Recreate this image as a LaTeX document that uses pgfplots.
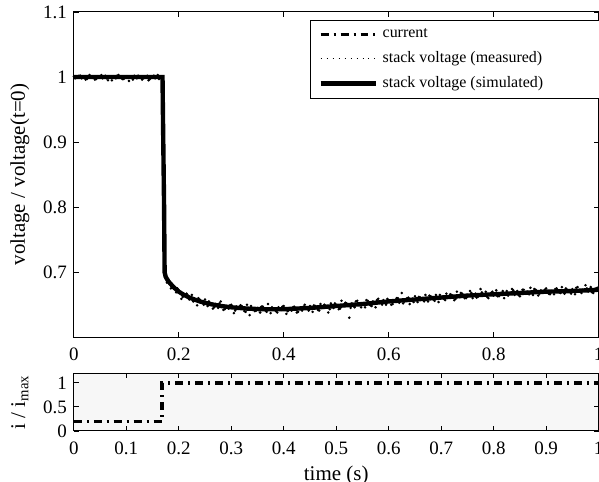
\documentclass[border=0pt]{standalone}
\usepackage{fontspec}
\setmainfont{Liberation Serif}
\usepackage{pgfplots}
\pgfplotsset{compat=1.18}
\begin{document}
\begin{tikzpicture}
\pgfplotsset{
 every axis/.append style={
  scale only axis, width=263pt, xmin=0, xmax=1,
  /pgf/number format/assume math mode=true,
  tick label style={font=\fontsize{9.5}{11}\selectfont},
  xticklabel style={yshift=-2pt},
  label style={font=\fontsize{10.5}{12}\selectfont},
  major tick length=2.5pt,
  tick style={black, line width=0.4pt},
  axis line style={line width=0.5pt},
  ylabel style={at={(axis description cs:0,0.5)}, anchor=center, yshift=27pt},
 }
}
\begin{axis}[name=top, at={(0,0)}, anchor=south west, height=163pt,
  ymin=0.6, ymax=1.1, ytick={0.7,0.8,0.9,1,1.1}, yticklabels={0.7,0.8,0.9,1,1.1},
  xtick={0,0.2,0.4,0.6,0.8,1}, xticklabels={0,0.2,0.4,0.6,0.8,1},
  ylabel={voltage / voltage(t=0)},
  legend image code/.code={\draw[#1] (0pt,0pt) -- (28pt,0pt);},
  legend cell align=left,
  legend style={at={(0.983,0.975)}, anchor=north east, xshift=15.5pt,
    draw=black, line width=0.5pt, fill=white, font=\fontsize{8}{9}\selectfont,
    row sep=1.5pt, inner xsep=4pt},
]
\addlegendimage{black, line width=1.8pt, dash pattern=on 4pt off 2.5pt on 1pt off 2.5pt}
\addlegendentry{current}
\addlegendimage{black, line width=0.5pt, dash pattern=on 0.5pt off 2.5pt}
\addlegendentry{stack voltage (measured)}
\addlegendimage{black, line width=2.2pt}
\addlegendentry{\makebox[113pt][l]{stack voltage (simulated)}}

% measured (noisy samples)
\addplot[forget plot, only marks, mark=*, mark size=0.42pt, black] coordinates {
(0.000,1.001)(0.005,0.999)(0.010,1.002)(0.015,0.998)(0.020,1.000)(0.025,0.997)(0.030,1.003)
(0.035,0.999)(0.040,0.996)(0.045,1.001)(0.050,1.000)(0.055,0.998)(0.060,1.002)(0.065,0.995)
(0.070,1.000)(0.075,1.001)(0.080,0.998)(0.085,1.003)(0.090,0.999)(0.095,0.997)(0.100,1.001)
(0.105,0.994)(0.110,1.000)(0.115,1.002)(0.120,0.998)(0.125,1.001)(0.130,0.996)(0.135,0.999)
(0.140,1.002)(0.145,0.997)(0.150,1.000)(0.155,0.998)(0.160,1.003)(0.165,0.999)
(0.0025,0.998)(0.0125,1.002)(0.0225,0.996)(0.0325,1.001)(0.0425,0.997)(0.0525,1.003)
(0.0625,0.998)(0.0725,0.995)(0.0825,1.002)(0.0925,0.997)(0.1025,1.001)(0.1125,0.996)
(0.1225,1.002)(0.1325,0.998)(0.1425,0.995)(0.1525,1.002)(0.1625,0.997)
(0.175,0.691)(0.180,0.689)(0.185,0.675)(0.190,0.678)(0.195,0.669)(0.200,0.672)(0.205,0.659)
(0.210,0.665)(0.215,0.667)(0.220,0.658)(0.225,0.665)(0.230,0.656)(0.235,0.649)(0.240,0.658)
(0.245,0.653)(0.250,0.658)(0.255,0.648)(0.260,0.652)(0.265,0.644)(0.270,0.651)(0.275,0.645)
(0.280,0.655)(0.285,0.642)(0.290,0.648)(0.295,0.644)(0.300,0.650)(0.305,0.637)(0.310,0.647)
(0.315,0.644)(0.320,0.648)(0.325,0.640)(0.330,0.650)(0.335,0.634)(0.340,0.645)(0.345,0.640)
(0.350,0.645)(0.355,0.638)(0.360,0.647)(0.365,0.641)(0.370,0.651)(0.375,0.637)(0.380,0.644)
(0.385,0.640)(0.390,0.646)(0.395,0.642)(0.400,0.648)(0.405,0.636)(0.410,0.645)(0.415,0.641)
(0.420,0.647)(0.425,0.638)(0.430,0.645)(0.435,0.641)(0.440,0.650)(0.445,0.644)(0.450,0.648)
(0.455,0.639)(0.460,0.648)(0.465,0.642)(0.470,0.651)(0.475,0.645)(0.480,0.648)(0.485,0.638)
(0.490,0.652)(0.495,0.645)(0.500,0.650)(0.505,0.643)(0.510,0.656)(0.515,0.648)(0.520,0.652)
(0.525,0.630)(0.530,0.652)(0.535,0.646)(0.540,0.656)(0.545,0.649)(0.550,0.652)(0.555,0.646)
(0.560,0.656)(0.565,0.649)(0.570,0.655)(0.575,0.646)(0.580,0.659)(0.585,0.653)(0.590,0.657)
(0.595,0.650)(0.600,0.657)(0.605,0.650)(0.610,0.656)(0.615,0.660)(0.620,0.653)(0.625,0.668)
(0.630,0.655)(0.635,0.660)(0.640,0.651)(0.645,0.659)(0.650,0.663)(0.655,0.654)(0.660,0.661)
(0.665,0.658)(0.670,0.665)(0.675,0.655)(0.680,0.663)(0.685,0.658)(0.690,0.665)(0.695,0.654)
(0.700,0.662)(0.705,0.659)(0.710,0.667)(0.715,0.661)(0.720,0.665)(0.725,0.657)(0.730,0.670)
(0.735,0.662)(0.740,0.667)(0.745,0.660)(0.750,0.665)(0.755,0.671)(0.760,0.660)(0.765,0.667)
(0.770,0.662)(0.775,0.674)(0.780,0.665)(0.785,0.670)(0.790,0.660)(0.795,0.668)(0.800,0.664)
(0.805,0.672)(0.810,0.663)(0.815,0.668)(0.820,0.660)(0.825,0.671)(0.830,0.667)(0.835,0.674)
(0.840,0.665)(0.845,0.671)(0.850,0.663)(0.855,0.673)(0.860,0.667)(0.865,0.670)(0.870,0.676)
(0.875,0.665)(0.880,0.673)(0.885,0.664)(0.890,0.672)(0.895,0.669)(0.900,0.675)(0.905,0.667)
(0.910,0.671)(0.915,0.666)(0.920,0.675)(0.925,0.669)(0.930,0.677)(0.935,0.667)(0.940,0.673)
(0.945,0.670)(0.950,0.674)(0.955,0.666)(0.960,0.677)(0.965,0.670)(0.970,0.673)(0.975,0.680)
(0.980,0.670)(0.985,0.677)(0.990,0.668)(0.995,0.675)(1.000,0.672)
(0.1775,0.684)(0.1875,0.676)(0.1975,0.675)(0.2075,0.662)(0.2175,0.664)(0.2275,0.655)
(0.2375,0.660)(0.2475,0.650)(0.2575,0.655)(0.2675,0.646)(0.2775,0.652)(0.2875,0.643)
(0.2975,0.649)(0.3075,0.641)(0.3175,0.649)(0.3275,0.639)(0.3375,0.648)(0.3475,0.641)
(0.3575,0.647)(0.3675,0.639)(0.3775,0.646)(0.3875,0.638)(0.3975,0.647)(0.4075,0.640)
(0.4175,0.646)(0.4275,0.639)(0.4375,0.647)(0.4475,0.641)(0.4575,0.649)(0.4675,0.641)
(0.4775,0.650)(0.4875,0.643)(0.4975,0.652)(0.5075,0.644)(0.5175,0.653)(0.5275,0.645)
(0.5375,0.655)(0.5475,0.646)(0.5575,0.657)(0.5675,0.648)(0.5775,0.657)(0.5875,0.650)
(0.5975,0.659)(0.6075,0.651)(0.6175,0.660)(0.6275,0.652)(0.6375,0.661)(0.6475,0.654)
(0.6575,0.662)(0.6675,0.655)(0.6775,0.664)(0.6875,0.656)(0.6975,0.665)(0.7075,0.657)
(0.7175,0.666)(0.7275,0.659)(0.7375,0.668)(0.7475,0.660)(0.7575,0.668)(0.7675,0.661)
(0.7775,0.669)(0.7875,0.662)(0.7975,0.670)(0.8075,0.663)(0.8175,0.671)(0.8275,0.664)
(0.8375,0.672)(0.8475,0.665)(0.8575,0.673)(0.8675,0.666)(0.8775,0.674)(0.8875,0.667)
(0.8975,0.673)(0.9075,0.666)(0.9175,0.674)(0.9275,0.668)(0.9375,0.675)(0.9475,0.667)
(0.9575,0.676)(0.9675,0.668)(0.9775,0.675)(0.9875,0.669)(0.9975,0.676)
};
% simulated
\addplot[forget plot, black, line width=2.2pt] coordinates {
(0,1)(0.169,1)(0.170,0.93)(0.172,0.80)(0.173,0.70)(0.175,0.693)(0.18,0.686)(0.19,0.677)
(0.2,0.670)(0.21,0.665)(0.22,0.661)(0.24,0.655)(0.26,0.651)(0.28,0.648)(0.30,0.646)
(0.33,0.644)(0.36,0.643)(0.40,0.643)(0.45,0.645)(0.5,0.648)(0.55,0.651)(0.6,0.655)
(0.65,0.658)(0.7,0.661)(0.75,0.664)(0.8,0.666)(0.85,0.668)(0.9,0.670)(0.95,0.671)(1.0,0.673)
};
\end{axis}

\begin{axis}[name=bottom, at={(0,-18pt)}, anchor=north west, height=29pt,
  ymin=0, ymax=1.2, ytick={0,0.5,1}, yticklabels={0,0.5,1},
  xtick={0,0.1,0.2,0.3,0.4,0.5,0.6,0.7,0.8,0.9,1},
  xticklabels={0,0.1,0.2,0.3,0.4,0.5,0.6,0.7,0.8,0.9,1},
  xlabel={time (s)}, ylabel={i / i\textsubscript{max}},
  xlabel style={yshift=1.5pt},
  axis background/.style={fill=black!3},
]
\addplot[black, line width=1.8pt, dash pattern=on 4pt off 2.5pt on 1pt off 2.5pt] coordinates {
(0,0.2)(0.168,0.2)(0.168,1)(1,1)
};
\end{axis}
\pgfresetboundingbox
\path[use as bounding box] (-37pt,-72.5pt) rectangle (263.2pt,169pt);
\end{tikzpicture}
\end{document}
